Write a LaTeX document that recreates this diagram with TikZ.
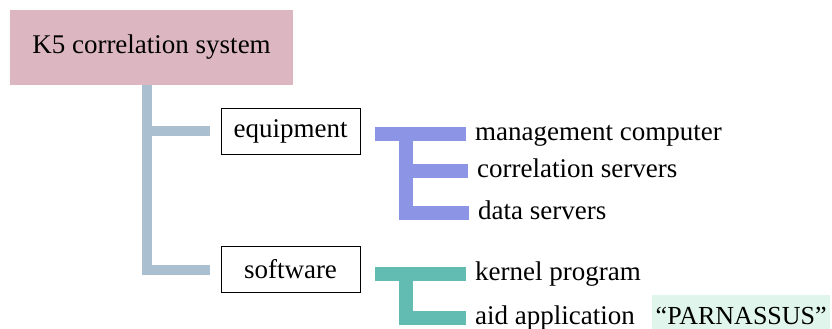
\documentclass[tikz,border=0pt]{standalone}
\usepackage{fontspec}
\setmainfont{Liberation Serif}
\definecolor{rootpink}{RGB}{220,183,193}
\definecolor{trunkblue}{RGB}{170,192,208}
\definecolor{epurple}{RGB}{140,148,230}
\definecolor{steal}{RGB}{98,188,178}
\definecolor{mint}{RGB}{224,245,236}
\begin{document}
\begin{tikzpicture}[x=1pt,y=-1pt,
  txt/.style={font=\fontsize{27}{32}\selectfont},
  rootbox/.style={txt, fill=rootpink, minimum width=283pt, minimum height=75pt, inner sep=0pt},
  catbox/.style={txt, draw=black, line width=1pt, minimum width=139pt, minimum height=46pt, inner sep=0pt},
  item/.style={txt, anchor=base west, inner sep=0pt, text height=18pt, text depth=6pt},
  tbar/.style={draw=trunkblue, line width=10pt, line cap=butt, line join=miter},
  ebar/.style={draw=epurple, line width=14pt, line cap=butt, line join=miter},
  sbar/.style={draw=steal, line width=14pt, line cap=butt, line join=miter}]
\useasboundingbox (0,0) rectangle (832,329);
\fill[white] (0,0) rectangle (832,329);

\node[rootbox] (root) at (151.5,47.5) {K5 correlation system};
\node[catbox] (equip) at (290.5,131) {equipment};
\node[catbox] (soft) at (290.5,269.5) {software};

\node[item] (mgmt) at (475,140) {management computer};
\node[item] (corr) at (477,177) {correlation servers};
\node[item] (data) at (478,219) {data servers};
\node[item] (kern) at (475,280) {kernel program};
\node[item] (aid) at (475,324) {aid application};
\node[font=\fontsize{26}{30}\selectfont, anchor=base west, fill=mint, inner xsep=3pt, inner ysep=3pt, text height=26pt, text depth=2pt, minimum width=178pt] (parn) at (652,324) {“PARNASSUS”};

% trunk
\coordinate (ts) at (147,0);
\draw[tbar] (ts |- root.south) |- ([xshift=-11pt]equip.west);
\draw[tbar] (ts |- root.south) |- ([xshift=-11pt]soft.west);

% equipment E
\coordinate (es) at (405.5,0);
\draw[ebar] ([xshift=14pt]equip.east |- mgmt.west) -- ([xshift=-9pt]mgmt.west);
\draw[ebar] ([yshift=7pt]es |- mgmt.west) |- ([xshift=-9pt]data.west);
\draw[ebar] (es |- corr.west) -- ([xshift=-9pt]corr.west);

% software
\draw[sbar] ([xshift=14pt]soft.east |- kern.west) -- ([xshift=-9pt]kern.west);
\draw[sbar] ([yshift=7pt]es |- kern.west) |- ([xshift=-9pt]aid.west);
\end{tikzpicture}
\end{document}
